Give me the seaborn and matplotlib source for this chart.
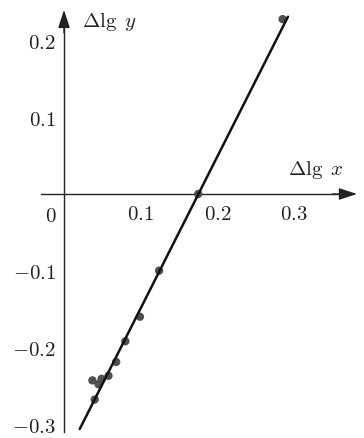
import matplotlib
matplotlib.use("Agg")
import matplotlib.pyplot as plt
import seaborn as sns
import numpy as np
import pandas as pd

# data
dlgx = [0.285, 0.175, 0.124, 0.099, 0.080, 0.068, 0.058, 0.049, 0.037, 0.045, 0.040]
dlgy = [0.228, 0.000, -0.100, -0.160, -0.192, -0.219, -0.237, -0.241, -0.243, -0.248, -0.268]
fit_slope = 1.98
fit_intercept = -0.347
fit_x_range = [0.0205, 0.292]
xtick_vals = [0.1, 0.2, 0.3]
xtick_labels = ["$0.1$", "$0.2$", "$0.3$"]
ytick_vals = [-0.3, -0.2, -0.1, 0.1, 0.2]
ytick_labels = ["$-0.3$", "$-0.2$", "$-0.1$", "$0.1$", "$0.2$"]

sns.set_style("white")
plt.rcParams["mathtext.fontset"] = "cm"
plt.rcParams["font.family"] = ["DejaVu Serif"]

W, H = 364, 439
fig = plt.figure(figsize=(W / 100, H / 100), dpi=100)
ax = fig.add_axes([0, 0, 1, 1])
ax.set_facecolor("white")

pts = pd.DataFrame({"x": dlgx, "y": dlgy})
sns.scatterplot(data=pts, x="x", y="y", ax=ax, color="#505050", s=36,
                edgecolor="none", zorder=3)
fx = np.array(fit_x_range)
line = pd.DataFrame({"x": fx, "y": fit_slope * fx + fit_intercept})
sns.lineplot(data=line, x="x", y="y", ax=ax, color="#111111", lw=1.8, zorder=4)

x0px, ppu = 64.0, 767.0
y0px = 195.0
ax.set_xlim(-x0px / ppu, (W - x0px) / ppu)
ax.set_ylim((y0px - H) / ppu, y0px / ppu)

for s in ["top", "right"]:
    ax.spines[s].set_visible(False)
ax.spines["left"].set_position(("data", 0))
ax.spines["bottom"].set_position(("data", 0))
ax.spines["left"].set_bounds(-0.31, 0.23)
ax.spines["bottom"].set_bounds(-0.0305, 0.37)
for s in ["left", "bottom"]:
    ax.spines[s].set_color("#222222")
    ax.spines[s].set_linewidth(1.0)

ax.annotate("", xy=(0.382, 0), xytext=(0.35, 0),
            arrowprops=dict(arrowstyle="-|>,head_length=1.1,head_width=0.36",
                            color="#222222", lw=1.0, shrinkA=0, shrinkB=0))
ax.annotate("", xy=(0, 0.240), xytext=(0, 0.21),
            arrowprops=dict(arrowstyle="-|>,head_length=1.1,head_width=0.36",
                            color="#222222", lw=1.0, shrinkA=0, shrinkB=0))

ax.set_xticks(xtick_vals, xtick_labels)
ax.set_yticks(ytick_vals, ytick_labels)
ax.tick_params(axis="x", direction="in", length=5, width=1, colors="#222222",
               labelsize=15, pad=7, labelcolor="#222222")
ax.tick_params(axis="y", direction="in", length=5, width=1, colors="#222222",
               labelsize=15, pad=6, labelcolor="#222222")
ax.set_xlabel("")
ax.set_ylabel("")

ax.text(-0.0173, -0.028, "$0$", fontsize=15, ha="center", va="center", color="#222222")
ax.text(0.292, 0.032, r"$\Delta\lg\ x$", fontsize=15, ha="left", va="center", color="#222222")
ax.text(0.023, 0.226, r"$\Delta\lg\ y$", fontsize=15, ha="left", va="center", color="#222222")

fig.savefig("out.png", dpi=100, facecolor="white")
